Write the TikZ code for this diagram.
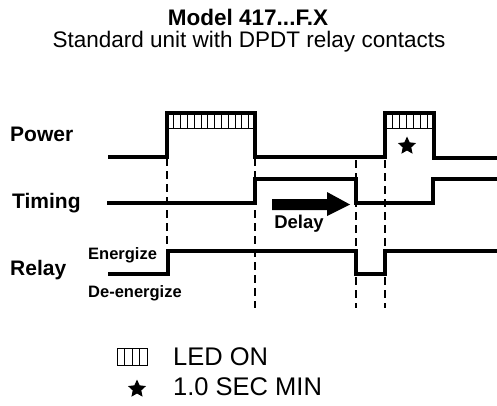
\documentclass[tikz,border=0pt]{standalone}
\usepackage{fontspec}
\setmainfont{Liberation Sans}
\usetikzlibrary{shapes.geometric}

\begin{document}
\begin{tikzpicture}[x=1pt, y=-1pt,
    signal/.style={line width=4.5pt, line join=miter},
    guide/.style={line width=1.8pt, dash pattern=on 8pt off 5pt},
    hatch/.style={line width=0.8pt},
    label/.style={anchor=base west, inner sep=0pt, font=\fontsize{21}{21}\selectfont\bfseries},
    small/.style={anchor=base west, inner sep=0pt, font=\fontsize{16.5}{16.5}\selectfont\bfseries},
    legend/.style={anchor=base west, inner sep=0pt, font=\fontsize{25.5}{25.5}\selectfont},
    starmark/.style={star, star points=5, star point ratio=2.1, fill=black, inner sep=0pt, minimum size=19pt}]
  \useasboundingbox (0,0) rectangle (497,406);

  % title
  \node[inner sep=0pt, anchor=base, font=\fontsize{22.5}{22.5}\selectfont\bfseries] (title) at (248,26) {Model 417...F.X};
  \node[inner sep=0pt, anchor=base, font=\fontsize{22.5}{22.5}\selectfont] (subtitle) at (249,48) {Standard unit with DPDT relay contacts};

  % signal names
  \node[label] (power)  at (10,141.5) {Power};
  \node[label] (timing) at (12,208)   {Timing};
  \node[label] (relay)  at (10,275)   {Relay};
  \node[small] (energize)   at (88,259) {Energize};
  \node[small] (deenergize) at (88,297) {De-energize};

  % LED hatching inside the power pulses
  \draw[hatch] (167,128) -- (255,128);
  \foreach \x in {1,...,12}
    \draw[hatch] (167+\x*6.8,113) -- (167+\x*6.8,128);
  \draw[hatch] (385,128) -- (434,128);
  \foreach \x in {1,...,6}
    \draw[hatch] (385+\x*7,113) -- (385+\x*7,128);
  \node[starmark] (minstar) at (407,146) {};

  % dashed time marks
  \draw[guide] (167,158) -- (167,252);
  \draw[guide] (255,158) -- (255,308);
  \draw[guide] (356,160) -- (356,308);
  \draw[guide] (385,160) -- (385,308);

  % signals
  \draw[signal] (108,157) -- (167,157) -- (167,113) -- (255,113) -- (255,157)
    -- (385,157) -- (385,113) -- (434,113) -- (434,158) -- (497,158);
  \draw[signal] (107,203) -- (255,203) -- (255,179) -- (356,179) -- (356,203)
    -- (433,203) -- (433,179) -- (497,179);
  \draw[signal] (108,274) -- (168,274) -- (168,251) -- (356,251) -- (356,274)
    -- (385,274) -- (385,251) -- (497,251);

  % delay arrow
  \fill (272,199) -- (327,199) -- (327,192) -- (350,204.5) -- (327,216) -- (327,210) -- (272,210) -- cycle;
  \node[anchor=base, inner sep=0pt, font=\fontsize{18.5}{18.5}\selectfont\bfseries] (delay) at (299,228) {Delay};

  % legend
  \draw[hatch] (117,348) rectangle (147,365);
  \foreach \x in {1,...,3}
    \draw[hatch] (117+\x*7.5,348) -- (117+\x*7.5,365);
  \node[legend] (ledon) at (173,365) {LED ON};
  \node[starmark] (legstar) at (137,389) {};
  \node[legend] (secmin) at (173,395) {1.0 SEC MIN};
\end{tikzpicture}
\end{document}
